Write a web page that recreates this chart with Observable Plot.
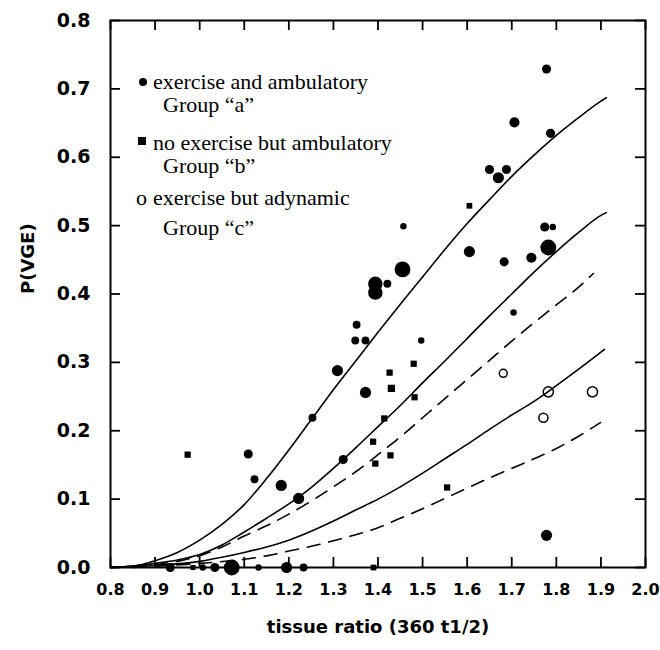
<!DOCTYPE html>
<html>
<head>
<meta charset="utf-8">
<script src="https://cdn.jsdelivr.net/npm/d3@7"></script>
<script src="https://cdn.jsdelivr.net/npm/@observablehq/plot@0.6"></script>
<style>
  html, body { margin: 0; padding: 0; background: #fff; }
  #chart { width: 660px; height: 650px; }
</style>
</head>
<body>
<div id="chart"></div>
<script>
// ---- data ----
const xTicks = [0.8, 0.9, 1.0, 1.1, 1.2, 1.3, 1.4, 1.5, 1.6, 1.7, 1.8, 1.9, 2.0];
const yTicks = [0.0, 0.1, 0.2, 0.3, 0.4, 0.5, 0.6, 0.7, 0.8];
const xLabel = "tissue ratio (360 t1/2)";
const yLabel = "P(VGE)";

// group "a": exercise and ambulatory  [x, P(VGE), n]
const groupA = [
  [1.778, 0.729, 2], [1.706, 0.651, 2.5], [1.787, 0.635, 2], [1.650, 0.582, 2],
  [1.688, 0.582, 2], [1.670, 0.570, 3], [1.457, 0.499, 1], [1.774, 0.498, 2],
  [1.792, 0.498, 1], [1.782, 0.468, 6], [1.605, 0.462, 3], [1.683, 0.447, 2],
  [1.744, 0.453, 2.5], [1.455, 0.436, 6], [1.394, 0.415, 5], [1.394, 0.402, 5],
  [1.421, 0.415, 1.5], [1.704, 0.373, 1], [1.497, 0.332, 1], [1.352, 0.355, 1.5],
  [1.349, 0.332, 1.5], [1.372, 0.332, 1.5], [1.309, 0.288, 3], [1.372, 0.256, 3],
  [1.253, 0.219, 1.5], [1.109, 0.166, 2], [1.123, 0.129, 1.5], [1.183, 0.120, 3],
  [1.222, 0.101, 3], [1.322, 0.158, 2], [1.778, 0.047, 3],
  [0.934, 0.0, 2], [1.007, 0.0, 1], [1.034, 0.0, 2], [1.072, 0.0, 6],
  [1.132, 0.0, 1], [1.195, 0.0, 3], [1.233, 0.0, 1.5]
];
// group "b": no exercise but ambulatory  [x, P(VGE), n]
const groupB = [
  [1.605, 0.529, 1], [1.480, 0.298, 1.2], [1.426, 0.285, 1.2], [1.430, 0.262, 1.6],
  [1.482, 0.249, 1.2], [1.414, 0.218, 1.2], [1.389, 0.184, 1.2], [1.394, 0.152, 1.2],
  [1.428, 0.164, 1.2], [1.555, 0.117, 1.2], [0.973, 0.165, 1.2], [1.390, 0.0, 1],
  [0.985, 0.0, 0.8]
];
// group "c": exercise but adynamic  [x, P(VGE), n]
const groupC = [
  [1.681, 0.284, 1.5], [1.782, 0.257, 2.5], [1.881, 0.257, 2.5], [1.771, 0.219, 2]
];

// fitted curves
const curveA = [[0.8,0],[0.85,0.002],[0.9,0.01],[0.95,0.022],[1.0,0.04],[1.05,0.063],[1.1,0.092],[1.15,0.13],[1.2,0.172],[1.25,0.216],[1.3,0.26],[1.35,0.302],[1.4,0.344],[1.45,0.385],[1.5,0.425],[1.55,0.465],[1.6,0.503],[1.65,0.538],[1.7,0.572],[1.75,0.603],[1.8,0.632],[1.85,0.658],[1.9,0.682],[1.912,0.687]];
const curveB = [[0.8,0],[0.85,0.002],[0.9,0.006],[0.95,0.011],[1.0,0.019],[1.05,0.033],[1.1,0.052],[1.15,0.072],[1.2,0.093],[1.25,0.117],[1.3,0.145],[1.35,0.175],[1.4,0.206],[1.45,0.237],[1.5,0.27],[1.55,0.302],[1.6,0.335],[1.65,0.368],[1.7,0.4],[1.75,0.432],[1.8,0.462],[1.85,0.49],[1.9,0.515],[1.912,0.519]];
const curveC = [[0.8,0],[0.9,0.003],[1.0,0.009],[1.05,0.015],[1.1,0.022],[1.15,0.03],[1.2,0.04],[1.25,0.053],[1.3,0.068],[1.35,0.084],[1.4,0.1],[1.45,0.118],[1.5,0.138],[1.55,0.159],[1.6,0.18],[1.65,0.202],[1.7,0.223],[1.75,0.243],[1.8,0.266],[1.85,0.29],[1.9,0.315],[1.908,0.319]];
const curveD1 = [[0.85,0],[0.9,0.004],[0.95,0.009],[1.0,0.017],[1.05,0.03],[1.1,0.046],[1.15,0.061],[1.2,0.078],[1.25,0.097],[1.3,0.118],[1.35,0.14],[1.4,0.165],[1.45,0.191],[1.5,0.219],[1.55,0.247],[1.6,0.275],[1.65,0.303],[1.7,0.331],[1.75,0.358],[1.8,0.384],[1.85,0.41],[1.883,0.43]];
const curveD2 = [[0.85,0],[0.9,0.002],[1.0,0.006],[1.1,0.012],[1.15,0.017],[1.2,0.024],[1.25,0.031],[1.3,0.039],[1.35,0.048],[1.4,0.058],[1.45,0.072],[1.5,0.086],[1.55,0.101],[1.6,0.116],[1.65,0.131],[1.7,0.145],[1.75,0.159],[1.8,0.174],[1.85,0.192],[1.899,0.212]];

const legendLabels = ["exercise and ambulatory", "Group \u201ca\u201d", "no exercise but ambulatory", "Group \u201cb\u201d", "exercise but adynamic", "Group \u201cc\u201d"];

// ---- chart ----
const fmt = d3.format(".1f");
const px = d => d[0], py = d => d[1], pn = d => d[2];
const lineOpts = {x: px, y: py, curve: "monotone-x", stroke: "black", strokeWidth: 1.6};
const dashOpts = {...lineOpts, strokeDasharray: "13,9"};
const W = 660, H = 650, ML = 110, MR = 15, MT = 20, MB = 83;
const TL = 10; // inward tick length in pixels
const frameW = W - ML - MR, frameH = H - MT - MB;
const tickStyle = {stroke: "black", strokeWidth: 1.8};

const chart = Plot.plot({
  width: W,
  height: H,
  marginLeft: ML,
  marginRight: MR,
  marginTop: MT,
  marginBottom: MB,
  style: {fontFamily: "DejaVu Sans", fontWeight: "bold", background: "white", color: "black"},
  x: {domain: [0.8, 2.0]},
  y: {domain: [0, 0.8]},
  r: {type: "sqrt", domain: [0, 6], range: [0, 7.9]},
  marks: [
    Plot.axisX({anchor: "bottom", ticks: xTicks, tickFormat: fmt, tickSize: 0, tickPadding: 16, fontSize: 16, fontWeight: "bold", label: null}),
    Plot.axisY({anchor: "left", ticks: yTicks, tickFormat: fmt, tickSize: 0, tickPadding: 20, fontSize: 19, fontWeight: "bold", label: null}),
    // inward ticks on all four sides
    Plot.tickX(xTicks, {x: d => d, insetTop: frameH - TL, ...tickStyle}),
    Plot.tickX(xTicks, {x: d => d, insetBottom: frameH - TL, ...tickStyle}),
    Plot.tickY(yTicks, {y: d => d, insetRight: frameW - TL, ...tickStyle}),
    Plot.tickY(yTicks, {y: d => d, insetLeft: frameW - TL, ...tickStyle}),
    Plot.frame({stroke: "black", strokeWidth: 2}),
    Plot.text([xLabel], {frameAnchor: "bottom", dy: 60, text: d => d, fontSize: 18, fontWeight: "bold", lineAnchor: "middle"}),
    Plot.text([yLabel], {frameAnchor: "left", dx: -82, rotate: -90, text: d => d, fontSize: 18, fontWeight: "bold", lineAnchor: "middle"}),
    Plot.line(curveA, lineOpts),
    Plot.line(curveB, lineOpts),
    Plot.line(curveC, lineOpts),
    Plot.line(curveD1, dashOpts),
    Plot.line(curveD2, dashOpts),
    Plot.dot(groupA, {x: px, y: py, r: pn, fill: "black"}),
    Plot.dot(groupB, {x: px, y: py, r: pn, fill: "black", symbol: "square"}),
    Plot.dot(groupC, {x: px, y: py, r: pn, fill: "none", stroke: "black", strokeWidth: 1.5})
  ]
});

// ---- legend (inside the frame, top-left) ----
const svg = d3.select(chart);
const lg = svg.append("g")
  .attr("font-family", "Liberation Serif")
  .attr("font-size", 22)
  .attr("font-weight", "normal")
  .attr("text-anchor", "start")
  .attr("fill", "black");
const baselines = [89, 112, 150, 173, 205, 235];
const lx = [153, 163, 153, 163, 153, 163];
legendLabels.forEach((t, i) => {
  lg.append("text").attr("x", lx[i]).attr("y", baselines[i]).text(t);
});
lg.append("circle").attr("cx", 143).attr("cy", 82).attr("r", 4);
lg.append("rect").attr("x", 138).attr("y", 137).attr("width", 8).attr("height", 8);
lg.append("text").attr("x", 136).attr("y", 205).text("o");

document.getElementById("chart").appendChild(chart);
</script>
</body>
</html>
